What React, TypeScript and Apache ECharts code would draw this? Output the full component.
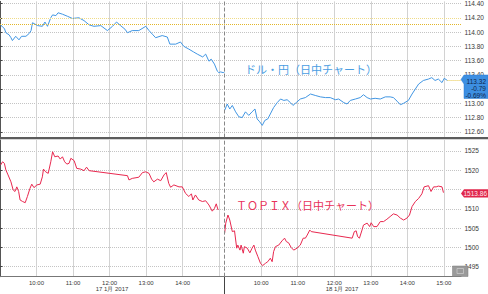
import React, { useEffect, useRef } from "react";
import * as echarts from "echarts";

// Axis units: hours since day-1 09:00; the overnight break is compressed so day 2 09:00 sits at DAY2_OFFSET.
const DAY2_OFFSET = 6.15;
const X_MAX = 12.62;

// USD/JPY intraday [hour of day, rate]
const usdJpyDay1: [number, number][] = [
  [9.02, 114.1], [9.07, 114.07], [9.12, 114.05], [9.16, 113.99], [9.25, 113.96], [9.3, 113.92], [9.34, 113.88],
  [9.43, 113.94], [9.52, 113.89], [9.59, 113.94], [9.71, 113.94], [9.8, 113.98], [9.85, 114.02], [9.89, 114.13],
  [10.03, 114.09], [10.16, 114.08], [10.23, 114.14], [10.3, 114.08], [10.39, 114.2], [10.44, 114.24], [10.53, 114.23],
  [10.59, 114.27], [10.71, 114.25], [10.85, 114.22], [10.98, 114.19], [11.16, 114.2], [11.3, 114.16], [11.44, 114.1],
  [11.57, 114.08], [11.76, 114.09], [11.94, 114.02], [12.08, 114.08], [12.19, 114.14], [12.3, 114.09], [12.42, 114.04],
  [12.49, 113.99], [12.62, 114.02], [12.8, 114.02], [12.99, 114.08], [13.08, 114.02], [13.17, 113.97], [13.26, 113.92],
  [13.44, 113.95], [13.58, 113.93], [13.65, 113.83], [13.81, 113.83], [13.94, 113.86], [14.03, 113.8], [14.17, 113.76],
  [14.3, 113.72], [14.4, 113.69], [14.55, 113.65], [14.63, 113.69], [14.72, 113.59], [14.78, 113.62], [14.87, 113.55],
  [14.95, 113.45], [14.99, 113.43], [15.04, 113.44], [15.11, 113.43], [15.15, 113.44],
];
const usdJpyDay2: [number, number][] = [
  [9.0, 112.9], [9.07, 112.99], [9.14, 112.92], [9.21, 112.97], [9.3, 112.88], [9.39, 112.81], [9.48, 112.8],
  [9.57, 112.88], [9.66, 112.83], [9.75, 112.88], [9.83, 112.92], [9.89, 112.78], [9.96, 112.74], [10.03, 112.69],
  [10.1, 112.76], [10.18, 112.78], [10.25, 112.85], [10.34, 112.94], [10.44, 113.01], [10.53, 113.06], [10.62, 113.04],
  [10.71, 113.05], [10.8, 113.01], [10.87, 112.97], [10.96, 113.01], [11.07, 113.06], [11.21, 113.08], [11.35, 113.13],
  [11.48, 113.11], [11.62, 113.09], [11.76, 113.08], [11.89, 113.08], [12.03, 113.05], [12.12, 113.06], [12.26, 113.01],
  [12.35, 112.99], [12.44, 113.04], [12.58, 113.06], [12.71, 113.08], [12.8, 113.12], [12.9, 113.08], [12.99, 113.06],
  [13.12, 113.07], [13.26, 113.06], [13.4, 113.09], [13.53, 113.09], [13.62, 113.08], [13.72, 113.03], [13.81, 112.98],
  [13.9, 113.0], [14.03, 113.04], [14.13, 113.13], [14.22, 113.2], [14.31, 113.27], [14.44, 113.32], [14.58, 113.34],
  [14.67, 113.36], [14.76, 113.32], [14.85, 113.34], [14.95, 113.29], [15.01, 113.35], [15.1, 113.32],
];

// TOPIX intraday [hour of day, index]
const topixDay1: [number, number][] = [
  [9.02, 1521.4], [9.07, 1522.2], [9.12, 1521.8], [9.16, 1520.1], [9.22, 1518.8], [9.3, 1517.0], [9.36, 1514.9],
  [9.41, 1514.5], [9.46, 1515.7], [9.51, 1514.5], [9.55, 1512.3], [9.62, 1511.9], [9.69, 1511.6], [9.75, 1513.2],
  [9.82, 1515.3], [9.87, 1516.4], [9.93, 1515.5], [10.01, 1516.2], [10.1, 1516.4], [10.16, 1518.3], [10.19, 1520.3],
  [10.25, 1519.6], [10.32, 1519.2], [10.39, 1522.2], [10.44, 1524.8], [10.5, 1523.5], [10.59, 1523.7], [10.65, 1522.9],
  [10.71, 1523.5], [10.77, 1522.2], [10.83, 1521.6], [10.89, 1521.8], [10.94, 1523.1], [11.03, 1522.5], [11.1, 1520.5],
  [11.21, 1520.3], [11.3, 1519.9], [11.37, 1520.8], [11.44, 1519.9], [12.49, 1518.6], [12.53, 1517.5], [12.62, 1517.9],
  [12.8, 1518.2], [12.9, 1519.4], [12.99, 1519.6], [13.08, 1519.2], [13.15, 1517.7], [13.21, 1517.0], [13.31, 1517.7],
  [13.4, 1517.3], [13.49, 1518.8], [13.55, 1519.4], [13.62, 1516.6], [13.67, 1515.6], [13.76, 1516.2], [13.9, 1515.7],
  [13.99, 1515.7], [14.08, 1514.0], [14.17, 1513.2], [14.24, 1513.9], [14.28, 1512.3], [14.35, 1513.6], [14.44, 1512.3],
  [14.54, 1511.9], [14.63, 1512.1], [14.72, 1511.0], [14.81, 1509.4], [14.87, 1510.1], [14.92, 1511.3], [14.97, 1509.7],
];
const topixDay2: [number, number][] = [
  [9.0, 1503.7], [9.03, 1506.3], [9.09, 1508.4], [9.14, 1507.1], [9.21, 1504.1], [9.27, 1504.3], [9.33, 1499.8],
  [9.36, 1500.6], [9.42, 1499.3], [9.45, 1500.6], [9.51, 1498.5], [9.54, 1500.2], [9.62, 1499.8], [9.69, 1498.6],
  [9.75, 1499.8], [9.8, 1500.6], [9.84, 1499.3], [9.91, 1497.6], [9.98, 1495.9], [10.04, 1495.3], [10.12, 1495.9],
  [10.18, 1496.3], [10.25, 1497.2], [10.3, 1496.3], [10.34, 1498.9], [10.39, 1500.2], [10.48, 1500.6], [10.57, 1501.7],
  [10.64, 1502.4], [10.69, 1501.5], [10.75, 1501.2], [10.82, 1500.0], [10.89, 1499.3], [10.98, 1499.8], [11.07, 1500.6],
  [11.15, 1502.4], [11.21, 1502.4], [11.26, 1503.2], [11.33, 1504.5], [11.37, 1504.1], [12.49, 1502.4], [12.55, 1504.1],
  [12.6, 1504.3], [12.64, 1502.8], [12.69, 1502.4], [12.76, 1504.5], [12.8, 1505.8], [12.9, 1506.3], [12.97, 1505.4],
  [13.01, 1506.4], [13.08, 1505.4], [13.17, 1505.4], [13.26, 1506.7], [13.35, 1506.7], [13.44, 1507.3], [13.53, 1508.0],
  [13.62, 1508.7], [13.72, 1508.4], [13.81, 1507.6], [13.9, 1507.1], [13.99, 1507.6], [14.06, 1508.4], [14.13, 1510.6],
  [14.22, 1511.9], [14.31, 1512.7], [14.4, 1513.9], [14.46, 1515.7], [14.58, 1516.0], [14.65, 1514.5], [14.72, 1515.7],
  [14.79, 1515.7], [14.85, 1515.9], [14.95, 1515.7], [14.99, 1514.2],
];

const usdTicks = [112.6, 112.8, 113.0, 113.2, 113.4, 113.6, 113.8, 114.0, 114.2, 114.4];
// labels hidden behind the price tags in the reference are left out
const usdLabels = [112.6, 112.8, 113.0, 113.4, 113.6, 113.8, 114.0, 114.2, 114.4];
const topixTicks = [1495, 1500, 1505, 1510, 1515, 1520, 1525];
const topixLabels = [1495, 1500, 1505, 1510, 1520, 1525];
const hourTicks = [10, 11, 12, 13, 14, 15];
const day1LabelHours = [10, 11, 12, 13, 14];
const day2LabelHours = [10, 11, 12, 13, 14, 15];
const refLevels = [114.2, 114.11];
const usdLast = 113.32;
const dateLabels = ["17 1月 2017", "18 1月 2017"];
const usdTagTexts = ["113.32", "-0.79", "-0.69%"];
const topixTagText = "1513.86";

const toAxis = (pairs: [number, number][], offset: number) =>
  pairs.map(([h, v]) => [+(h - 9 + offset).toFixed(3), v]);

const xTickValues = [
  ...hourTicks.map((h) => h - 9),
  ...hourTicks.map((h) => h - 9 + DAY2_OFFSET),
];
const xLabelValues = [
  ...day1LabelHours.map((h) => h - 9),
  ...day2LabelHours.map((h) => h - 9 + DAY2_OFFSET),
];

const BLUE = "#4196e3";
const RED = "#e8284f";
const LABEL = "#383838";
const FONT = "Liberation Sans, Arial, sans-serif";
const CJK = "Noto Sans CJK JP, sans-serif";

export default function App() {
  const ref = useRef<HTMLDivElement>(null);
  useEffect(() => {
    const chart = echarts.init(ref.current!, null, { renderer: "svg" });
    const xBase = (gridIndex: number, showLabels: boolean) => ({
      type: "value",
      gridIndex,
      min: 0,
      max: X_MAX,
      axisLine: { show: showLabels, onZero: false, lineStyle: { color: "#777", width: 1 } },
      axisTick: { show: false, customValues: xTickValues },
      axisLabel: {
        show: showLabels,
        customValues: xLabelValues,
        fontSize: 6,
        color: LABEL,
        fontFamily: FONT,
        margin: 3,
        formatter: (v: number) => {
          const h = v >= DAY2_OFFSET - 0.01 ? v - DAY2_OFFSET + 9 : v + 9;
          return Math.round(h) + ":00";
        },
      },
      splitLine: { show: true, lineStyle: { color: "#d2d2d2", width: 1, type: "solid" } },
    });
    const yBase = (gridIndex: number, min: number, max: number, ticks: number[], labels: number[], dec: number) => ({
      type: "value",
      gridIndex,
      position: "right",
      min,
      max,
      axisLine: { show: true, lineStyle: { color: "#555", width: 1 } },
      axisTick: { show: true, length: 2.5, customValues: ticks, lineStyle: { color: "#444" } },
      axisLabel: {
        customValues: labels,
        fontSize: 6.5,
        color: LABEL,
        fontFamily: FONT,
        margin: 3.5,
        formatter: (v: number) => v.toFixed(dec),
      },
      splitLine: { show: true, lineStyle: { color: "#c4c4c4", type: "dotted", width: 1 } },
    });
    const sepLine = {
      silent: true,
      symbol: "none",
      label: { show: false },
      lineStyle: { color: "#888", type: "dashed", width: 1 },
      data: [{ xAxis: DAY2_OFFSET }],
    };
    const usd1 = toAxis(usdJpyDay1, 0);
    const usd2 = toAxis(usdJpyDay2, DAY2_OFFSET);
    const lastU = usd2[usd2.length - 1][0];
    chart.setOption({
      animation: false,
      backgroundColor: "#fff",
      grid: [
        { left: 0, top: 0, width: 461, height: 137.5 },
        { left: 0, top: 140, width: 461, height: 136.7 },
      ],
      xAxis: [xBase(0, false), xBase(1, true)],
      yAxis: [
        yBase(0, 112.52, 114.43, usdTicks, usdLabels, 2),
        yBase(1, 1492.41, 1527.85, topixTicks, topixLabels, 0),
      ],
      series: [
        {
          type: "line",
          xAxisIndex: 0,
          yAxisIndex: 0,
          data: usd1,
          showSymbol: false,
          lineStyle: { color: BLUE, width: 1 },
          markLine: {
            silent: true,
            symbol: "none",
            label: { show: false },
            data: [
              { yAxis: refLevels[0], lineStyle: { color: "#f0dc88", type: "dotted", width: 1 } },
              { yAxis: refLevels[1], lineStyle: { color: "#e2b62a", type: "dotted", width: 1 } },
              { xAxis: DAY2_OFFSET, lineStyle: { color: "#888", type: "dashed", width: 1 } },
            ],
          },
        },
        {
          type: "line",
          xAxisIndex: 0,
          yAxisIndex: 0,
          data: usd2,
          showSymbol: false,
          lineStyle: { color: BLUE, width: 1 },
          markLine: {
            silent: true,
            symbol: "none",
            label: { show: false },
            lineStyle: { color: "#e8c84a", type: "dotted", width: 1 },
            data: [[{ coord: [lastU, usdLast] }, { coord: [X_MAX, usdLast] }]],
          },
        },
        {
          type: "line",
          xAxisIndex: 1,
          yAxisIndex: 1,
          data: toAxis(topixDay1, 0),
          showSymbol: false,
          lineStyle: { color: RED, width: 1 },
          markLine: sepLine,
        },
        {
          type: "line",
          xAxisIndex: 1,
          yAxisIndex: 1,
          data: toAxis(topixDay2, DAY2_OFFSET),
          showSymbol: false,
          lineStyle: { color: RED, width: 1 },
        },
      ],
      graphic: [
        { type: "rect", z: 50, shape: { x: 0, y: 137, width: 488, height: 2.2 }, style: { fill: "#5c5c5c" } },
        { type: "line", z: 50, shape: { x1: 224.5, y1: 277, x2: 224.5, y2: 294 }, style: { stroke: "#444", lineWidth: 1 } },
        {
          type: "text", z: 50, x: 112, y: 289,
          style: { text: dateLabels[0], fill: LABEL, fontSize: 6, fontFamily: FONT, align: "center", verticalAlign: "middle" },
        },
        {
          type: "text", z: 50, x: 342, y: 289,
          style: { text: dateLabels[1], fill: LABEL, fontSize: 6, fontFamily: FONT, align: "center", verticalAlign: "middle" },
        },
        {
          type: "text", z: 50, x: 245, y: 68.5,
          style: { text: "ドル・円（日中チャート）", fill: "#4a9de2", fontSize: 11, fontFamily: CJK, align: "left", verticalAlign: "middle" },
        },
        {
          type: "text", z: 50, x: 236, y: 204.5,
          style: { text: "ＴＯＰＩＸ（日中チャート）", fill: "#e8325a", fontSize: 11, fontFamily: CJK, align: "left", verticalAlign: "middle" },
        },
        {
          type: "polygon", z: 60,
          shape: { points: [[461, 79.5], [464, 75], [488, 75], [488, 98.5], [464, 98.5], [464, 84]] },
          style: { fill: "#3d8fe2", stroke: "#2a7bd0", lineWidth: 0.5 },
        },
        {
          type: "text", z: 61, x: 486, y: 81,
          style: { text: usdTagTexts[0], fill: "#10264a", fontSize: 6.5, fontFamily: FONT, align: "right", verticalAlign: "middle" },
        },
        {
          type: "text", z: 61, x: 486, y: 88,
          style: { text: usdTagTexts[1], fill: "#10264a", fontSize: 6.5, fontFamily: FONT, align: "right", verticalAlign: "middle" },
        },
        {
          type: "text", z: 61, x: 486, y: 95,
          style: { text: usdTagTexts[2], fill: "#10264a", fontSize: 6.5, fontFamily: FONT, align: "right", verticalAlign: "middle" },
        },
        {
          type: "polygon", z: 60,
          shape: { points: [[461, 193.4], [464, 189.3], [488, 189.3], [488, 197.5], [464, 197.5]] },
          style: { fill: "#e0264b" },
        },
        {
          type: "text", z: 61, x: 487, y: 193.5,
          style: { text: topixTagText, fill: "#ffe8ee", fontSize: 6.5, fontFamily: FONT, align: "right", verticalAlign: "middle" },
        },
        {
          type: "rect", z: 60,
          shape: { x: 452.5, y: 266, width: 15.5, height: 10.5 },
          style: { fill: "#9a9a9a", stroke: "#7a7a7a", lineWidth: 0.5 },
        },
        {
          type: "rect", z: 61,
          shape: { x: 457, y: 268.5, width: 6.5, height: 5 },
          style: { fill: "none", stroke: "#d8d8d8", lineWidth: 0.6 },
        },
      ],
    });
    return () => chart.dispose();
  }, []);
  return (
    <div
      ref={ref}
      style={{ position: "fixed", left: 0, top: 0, width: 488, height: 294, background: "#fff" }}
    />
  );
}
